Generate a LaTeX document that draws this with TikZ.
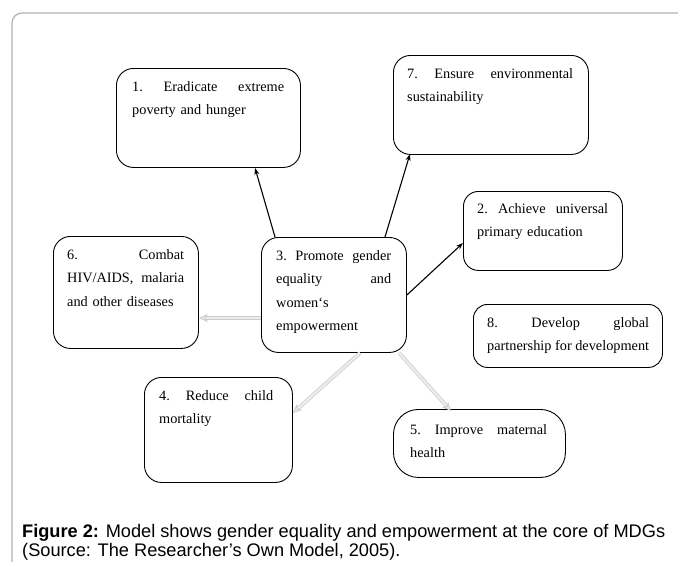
\documentclass[tikz,border=0pt]{standalone}
\usepackage{fontspec}
\setmainfont{Liberation Serif}
\newfontfamily\capfont{Liberation Sans}
\usetikzlibrary{arrows.meta,calc}
\newcommand{\firstln}{\rule{0pt}{12pt}}
\tikzset{
  box/.style={draw=black, line width=0.9pt, rounded corners=17pt, inner sep=0pt, anchor=north west},
  txt/.style={anchor=north west, inner sep=0pt, align=left, font=\fontsize{14.3}{23.5}\selectfont},
  blk/.style={draw=black, line width=1.1pt, -{Stealth[length=7pt,width=5pt]}},
  gry/.style={draw=gray!40, line width=0.7pt, double=gray!15, double distance=2.4pt,
     -{Stealth[length=9pt,width=8pt,fill=gray!15,color=gray!45]}},
  frame/.style={draw=gray!60, line width=1.2pt, rounded corners=10pt},
  captxt/.style={anchor=base west, inner sep=0pt, font=\capfont\fontsize{18.2}{21}\selectfont}
}
\begin{document}
\begin{tikzpicture}[x=1pt,y=-1pt]
\useasboundingbox (0,0) rectangle (678,562);
\draw[frame] (12,570) -- (12,13) -- (700,13);
% boxes
\node[box, minimum width=184pt, minimum height=99pt] (b1) at (116,68) {};
\node[box, minimum width=195pt, minimum height=99pt] (b7) at (393,55) {};
\node[box, minimum width=159pt, minimum height=79pt, rounded corners=15pt] (b2) at (463,191) {};
\node[box, minimum width=145pt, minimum height=112pt] (b6) at (53,236) {};
\node[box, minimum width=145pt, minimum height=115pt] (b3) at (261,237) {};
\node[box, minimum width=189pt, minimum height=63pt, rounded corners=14pt] (b8) at (473,304) {};
\node[box, minimum width=148pt, minimum height=105pt] (b4) at (144,377) {};
\node[box, minimum width=172pt, minimum height=68pt, rounded corners=25pt] (b5) at (393,409) {};
% texts
\node[txt, text width=152pt] (t1) at (132,79) {\firstln 1.\hfill Eradicate\hfill extreme\\poverty and hunger};
\node[txt, text width=166pt] (t7) at (407,66) {\firstln 7.\hfill Ensure\hfill environmental\\sustainability};
\node[txt, text width=131pt] (t2) at (477,201) {\firstln 2.\hfill Achieve\hfill universal\\primary education};
\node[txt, text width=117pt] (t6) at (67,247) {\firstln 6.\hfill Combat\\HIV/AIDS,\hfill malaria\\and other diseases};
\node[txt, text width=115pt] (t3) at (276,248) {\firstln 3.\hfill Promote\hfill gender\\equality\hfill and\\women‘s\\empowerment};
\node[txt, text width=162pt] (t8) at (487,315) {\firstln 8.\hfill Develop\hfill global\\partnership\hfill for\hfill development};
\node[txt, text width=114pt] (t4) at (159,388) {\firstln 4.\hfill Reduce\hfill child\\mortality};
\node[txt, text width=137pt] (t5) at (410,422) {\firstln 5.\hfill Improve\hfill maternal\\health};
% connectors
\draw[blk] ($(b3.north west)+(14,0)$) -- ($(b1.south west)+(139,0)$);
\draw[blk] ($(b3.north west)+(124,0)$) -- ($(b7.south west)+(17,-1)$);
\draw[blk] ($(b3.north east)+(0,58)$) -- ($(b2.north west)+(0,52)$);
\draw[gry] ($(b3.north west)+(0,81)$) -- ($(b6.north east)+(0,82)$);
\draw[gry] ($(b3.south west)+(99,0)$) -- ($(b4.north east)+(0,36)$);
\draw[gry] ($(b3.south west)+(138,0)$) -- ($(b5.north west)+(58,2)$);
% caption
\node[captxt] (c1) at (22,537) {\textbf{Figure 2:} Model shows gender equality and empowerment at the core of MDGs};
\node[captxt] (c2) at (22,556) {(Source: The Researcher’s Own Model, 2005).};
\end{tikzpicture}
\end{document}
